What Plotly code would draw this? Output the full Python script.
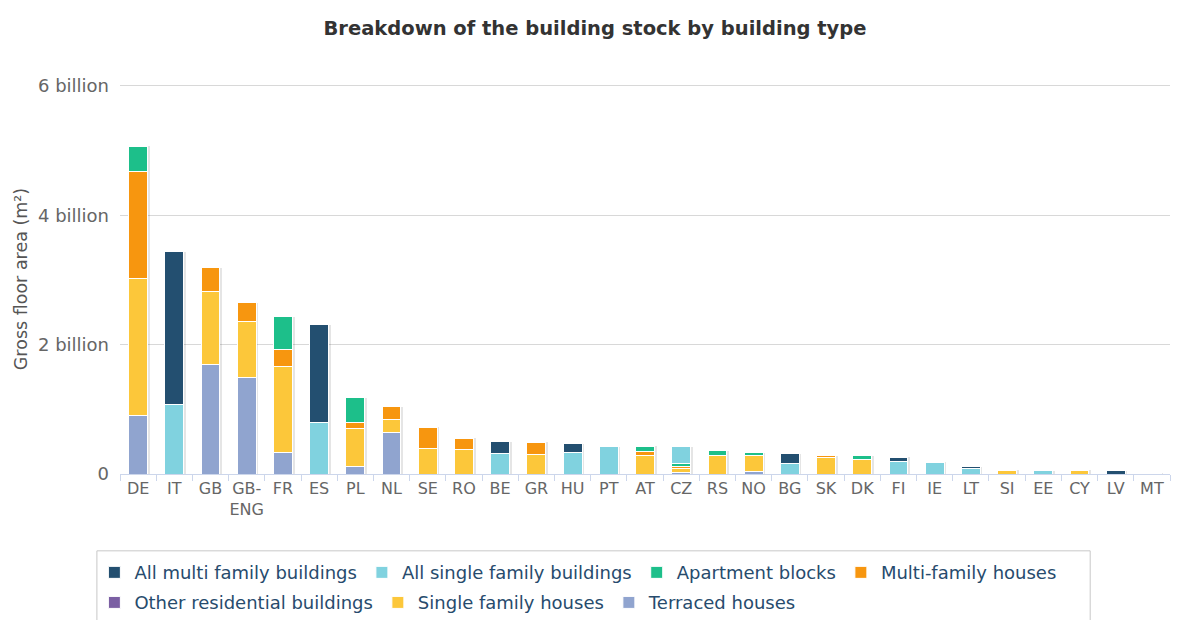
import plotly.graph_objects as go

# Countries, in chart order
countries = ["DE", "IT", "GB", "GB-ENG", "FR", "ES", "PL", "NL", "SE", "RO",
             "BE", "GR", "HU", "PT", "AT", "CZ", "RS", "NO", "BG", "SK",
             "DK", "FI", "IE", "LT", "SI", "EE", "CY", "LV", "MT"]
tick_labels = ["DE", "IT", "GB", "GB-<br>ENG", "FR", "ES", "PL", "NL", "SE", "RO",
               "BE", "GR", "HU", "PT", "AT", "CZ", "RS", "NO", "BG", "SK",
               "DK", "FI", "IE", "LT", "SI", "EE", "CY", "LV", "MT"]

# Gross floor area, billion m2
all_multi = [0, 2.37, 0, 0, 0, 1.52, 0, 0, 0, 0,
             0.18, 0, 0.14, 0, 0, 0, 0, 0, 0.14, 0,
             0, 0.06, 0, 0.02, 0, 0, 0, 0.05, 0]
all_single = [0, 1.07, 0, 0, 0, 0.79, 0, 0, 0, 0,
              0.32, 0, 0.33, 0.42, 0, 0.25, 0, 0, 0.17, 0,
              0, 0.20, 0.18, 0.09, 0, 0.05, 0, 0, 0.01]
apartment = [0.40, 0, 0, 0, 0.51, 0, 0.38, 0, 0, 0,
             0, 0, 0, 0, 0.08, 0.05, 0.07, 0.05, 0, 0,
             0.06, 0, 0, 0, 0, 0, 0, 0, 0]
multi_family = [1.65, 0, 0.37, 0.29, 0.26, 0, 0.10, 0.19, 0.32, 0.17,
                0, 0.19, 0, 0, 0.06, 0.03, 0, 0, 0, 0.03,
                0, 0, 0, 0, 0, 0, 0, 0, 0]
other_res = [0] * 29
single_family = [2.11, 0, 1.13, 0.87, 1.32, 0, 0.59, 0.21, 0.40, 0.38,
                 0, 0.30, 0, 0, 0.29, 0.06, 0.29, 0.24, 0, 0.25,
                 0.22, 0, 0, 0, 0.06, 0, 0.06, 0, 0]
terraced = [0.91, 0, 1.69, 1.49, 0.34, 0, 0.11, 0.64, 0, 0,
            0, 0, 0, 0, 0, 0.03, 0, 0.04, 0, 0,
            0, 0, 0, 0, 0, 0, 0, 0, 0]

# bottom-to-top stacking order
series = [
    ("Terraced houses", terraced, "#90a4cf", "legend2"),
    ("Single family houses", single_family, "#fcc73a", "legend2"),
    ("Other residential buildings", other_res, "#7b5fa3", "legend2"),
    ("Multi-family houses", multi_family, "#f7960f", "legend"),
    ("Apartment blocks", apartment, "#1dbf8a", "legend"),
    ("All single family buildings", all_single, "#80d2df", "legend"),
    ("All multi family buildings", all_multi, "#234f70", "legend"),
]
totals = [sum(v) for v in zip(*[s[1] for s in series])]

fig = go.Figure()

# soft shadow behind each stack
fig.add_trace(go.Bar(x=countries, y=totals, xaxis="x", yaxis="y",
                     width=0.52, offset=-0.2, marker_color="rgba(0,0,0,0.10)",
                     marker_line_width=0, showlegend=False, hoverinfo="skip"))

for name, vals, color, leg in series:
    fig.add_trace(go.Bar(x=countries, y=vals, name=name, xaxis="x2", yaxis="y",
                         width=0.52, marker_color=color,
                         marker_line=dict(color="white", width=1),
                         legend=leg))

FONT = "DejaVu Sans"
legend_font = dict(family=FONT, size=18, color="#274b6d")

# page body has an 8px margin, so the figure is a bit smaller than the window
fig.update_layout(
    width=1174, height=612,
    barmode="stack",
    paper_bgcolor="white", plot_bgcolor="white",
    margin=dict(l=112, r=12, t=76, b=146, autoexpand=False),
    title=dict(text="<b>Breakdown of the building stock by building type</b>",
               x=0.5, xanchor="center", y=0.967, yanchor="middle",
               font=dict(family=FONT, size=19.5, color="#333333")),
    font=dict(family=FONT, color="#666666"),
    xaxis=dict(categoryorder="array", categoryarray=countries,
               tickvals=countries, ticktext=tick_labels, tickangle=0,
               tickfont=dict(size=16, color="#666666"),
               showline=True, linecolor="#ccd6eb", linewidth=1,
               ticks="outside", tickson="boundaries", ticklen=6, tickcolor="#ccd6eb",
               showgrid=False, range=[-0.5, 28.5]),
    xaxis2=dict(overlaying="x", matches="x", visible=False,
                categoryorder="array", categoryarray=countries),
    yaxis=dict(range=[0, 6.03], tickvals=[0, 2, 4, 6],
               ticktext=["0", "2 billion", "4 billion", "6 billion"],
               tickfont=dict(size=18, color="#666666"),
               gridcolor="#d8d8d8", gridwidth=1, zeroline=False,
               ticks="", ticklabelstandoff=10,
               title=dict(text="Gross floor area (m²)", standoff=5,
                          font=dict(size=17.5, color="#555555"))),
    legend=dict(orientation="h", x=-0.0244, xanchor="left", y=-0.253, yanchor="middle",
                font=legend_font, traceorder="reversed", itemclick=False,
                bgcolor="rgba(0,0,0,0)"),
    legend2=dict(orientation="h", x=-0.0244, xanchor="left", y=-0.33, yanchor="middle",
                 font=legend_font, traceorder="reversed", itemclick=False,
                 bgcolor="rgba(0,0,0,0)"),
    shapes=[dict(type="rect", xref="paper", yref="paper",
                 x0=-0.022, x1=0.924, y0=-0.197, y1=-0.39,
                 line=dict(color="#c8c8c8", width=1), layer="below")],
)

fig.write_html("out.html")
